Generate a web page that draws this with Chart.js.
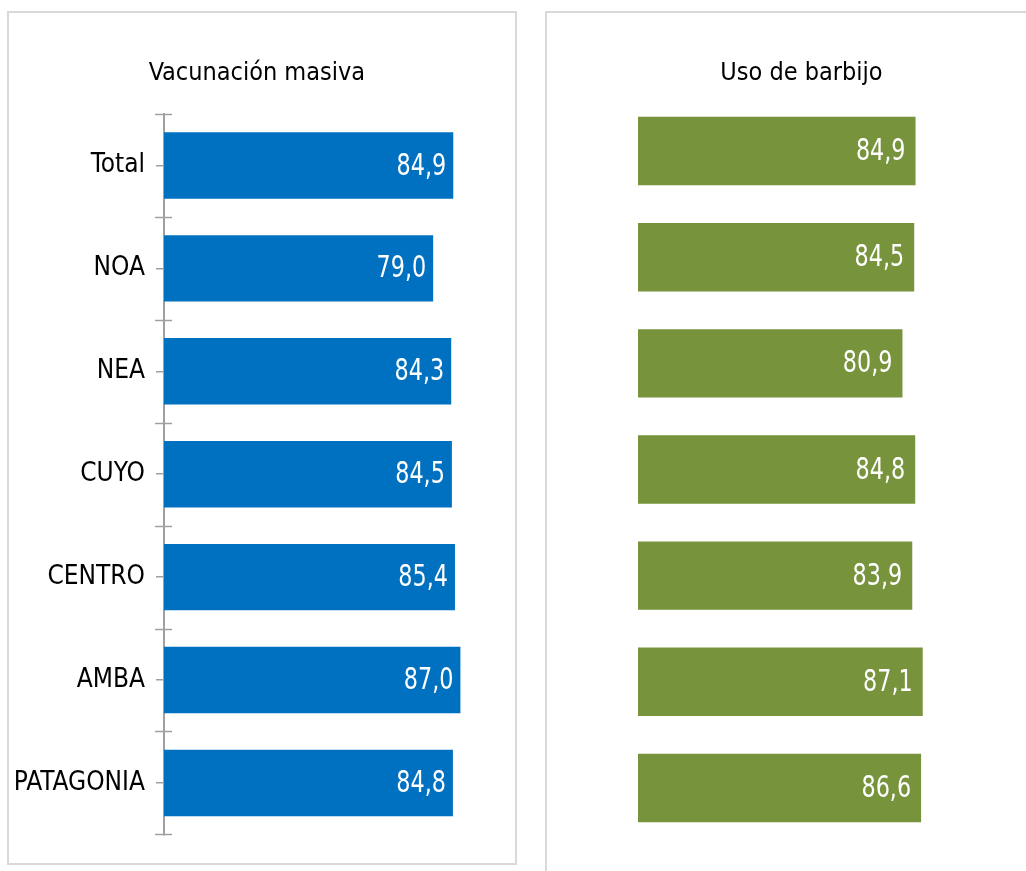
<!DOCTYPE html>
<html>
<head>
<meta charset="utf-8">
<script src="https://cdn.jsdelivr.net/npm/chart.js@4.4.0/dist/chart.umd.min.js"></script>
<style>
    body { margin: 0; background: #fff; overflow: hidden; width: 1026px; height: 871px; }
    .panel { position: absolute; box-sizing: border-box; border: 2px solid #d9d9d9; background: #fff; }
    #leftPanel { left: 7px; top: 11px; width: 510px; height: 854px; }
    #rightPanel { left: 545px; top: 11px; width: 520px; height: 900px; }
    canvas { position: absolute; left: 0; top: 0; }
</style>
</head>
<body>
<div class="panel" id="leftPanel"><canvas id="vacunaChart" width="506" height="848"></canvas></div>
<div class="panel" id="rightPanel"><canvas id="barbijoChart" width="492" height="848"></canvas></div>
<script>
const regiones = ['Total', 'NOA', 'NEA', 'CUYO', 'CENTRO', 'AMBA', 'PATAGONIA'];
const vacunacionMasiva = [84.9, 79.0, 84.3, 84.5, 85.4, 87.0, 84.8];
const usoBarbijo = [84.9, 84.5, 80.9, 84.8, 83.9, 87.1, 86.6];
const tituloVacuna = 'Vacunación masiva';
const tituloBarbijo = 'Uso de barbijo';

const FONT = "'Liberation Sans Narrow', 'Arial Narrow', 'DejaVu Sans Condensed', sans-serif";

// value labels written inside the end of each bar (squeezed a bit to look condensed)
function valueLabels(pad) {
    return {
        id: 'valueLabels',
        afterDatasetsDraw(chart) {
            const ctx = chart.ctx;
            const meta = chart.getDatasetMeta(0);
            const values = chart.data.datasets[0].data;
            const sx = 0.8;
            ctx.save();
            ctx.fillStyle = '#ffffff';
            ctx.font = '31px ' + FONT;
            ctx.textAlign = 'right';
            ctx.textBaseline = 'middle';
            meta.data.forEach(function(bar, i) {
                ctx.save();
                ctx.translate(bar.x - pad, bar.y + 1);
                ctx.scale(sx, 1);
                ctx.fillText(values[i].toFixed(1).replace('.', ','), 0, 0);
                ctx.restore();
            });
            ctx.restore();
        }
    };
}

// crossing tick marks at the category boundaries of the y axis
const boundaryTicks = {
    id: 'boundaryTicks',
    afterDraw(chart) {
        const scale = chart.scales.y;
        if (!scale.options.display) return;
        const ctx = chart.ctx;
        const n = scale.ticks.length;
        ctx.save();
        ctx.strokeStyle = '#a0a0a0';
        ctx.lineWidth = 1.5;
        for (let i = 0; i <= n; i++) {
            let y;
            if (i === 0) y = scale.top;
            else if (i === n) y = scale.bottom;
            else y = (scale.getPixelForTick(i - 1) + scale.getPixelForTick(i)) / 2;
            y = Math.round(y) + 0.5;
            ctx.beginPath();
            ctx.moveTo(scale.right - 9, y);
            ctx.lineTo(scale.right + 8, y);
            ctx.stroke();
        }
        ctx.restore();
    }
};

function makeConfig(title, values, color, showAxis, layoutPad, titlePad, labelPad) {
    const yScale = {
        display: showAxis,
        grid: {
            display: true,
            drawOnChartArea: false,
            offset: false,
            tickLength: 8,
            color: '#a0a0a0',
            lineWidth: 1.5
        },
        border: { display: true, color: '#a0a0a0', width: 2 },
        ticks: {
            color: '#000',
            padding: 11,
            font: { family: FONT, size: 26 }
        }
    };
    if (showAxis) {
        yScale.afterFit = function(scale) { scale.width = 155; };
    }
    return {
        type: 'bar',
        data: {
            labels: regiones,
            datasets: [{
                data: values,
                backgroundColor: color,
                borderWidth: 0,
                barPercentage: 0.645,
                categoryPercentage: 1
            }]
        },
        options: {
            indexAxis: 'y',
            responsive: false,
            animation: false,
            devicePixelRatio: 1,
            layout: { padding: layoutPad },
            scales: {
                x: { display: false, min: 0, max: 100 },
                y: yScale
            },
            plugins: {
                legend: { display: false },
                tooltip: { enabled: false },
                title: {
                    display: true,
                    text: title,
                    color: '#000',
                    font: { family: FONT, size: 25, weight: 'normal', lineHeight: 1.2 },
                    padding: titlePad
                }
            }
        },
        plugins: [valueLabels(labelPad), boundaryTicks]
    };
}

new Chart(document.getElementById('vacunaChart'),
    makeConfig(tituloVacuna, vacunacionMasiva, '#0070C0', true,
        { left: 0, right: 10.3, top: 0, bottom: 11 }, { top: 45, bottom: 26 }, 7));

new Chart(document.getElementById('barbijoChart'),
    makeConfig(tituloBarbijo, usoBarbijo, '#77933C', false,
        { left: 91, right: 74.1, top: 0, bottom: 20 }, { top: 45, bottom: 10 }, 10));
</script>
</body>
</html>
